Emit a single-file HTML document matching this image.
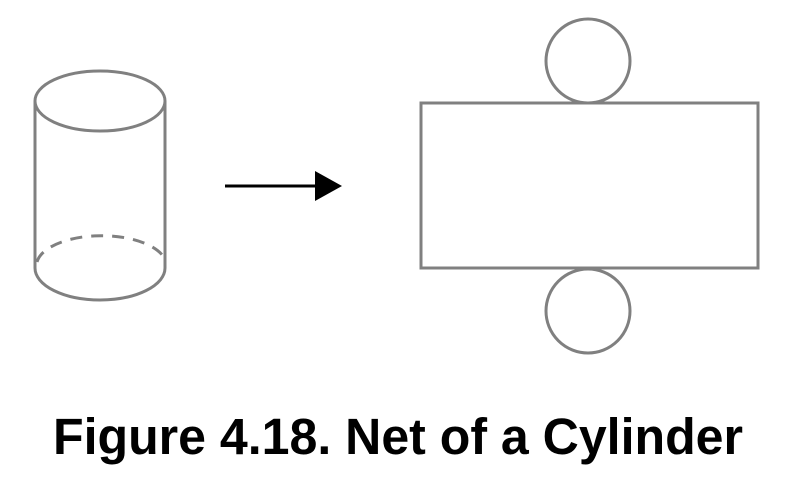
<!DOCTYPE html>
<html><head><style>html,body{margin:0;padding:0;background:#fff}</style></head>
<body>
<svg width="796" height="474" viewBox="0 0 796 474" xmlns="http://www.w3.org/2000/svg">
<g fill="none" stroke="#808080" stroke-width="3">
<ellipse cx="100" cy="101" rx="65" ry="30"/>
<line x1="35" y1="101" x2="35" y2="268"/>
<line x1="165" y1="101" x2="165" y2="268"/>
<path d="M35 268 A65 32 0 0 0 165 268"/>
<path d="M37 262 A65 30 0 0 1 163 256" stroke-dasharray="12 9"/>
<rect x="421" y="103" width="337" height="165"/>
<circle cx="588" cy="61" r="42"/>
<circle cx="588" cy="311" r="42"/>
</g>
<line x1="225" y1="186" x2="318" y2="186" stroke="#000" stroke-width="3"/>
<polygon points="315,171 342,186 315,201" fill="#000"/>
<text x="53" y="454" font-family="Liberation Sans, Arial, sans-serif" font-weight="bold" font-size="51" textLength="690" lengthAdjust="spacingAndGlyphs" fill="#000">Figure 4.18. Net of a Cylinder</text>
</svg>
</body></html>
